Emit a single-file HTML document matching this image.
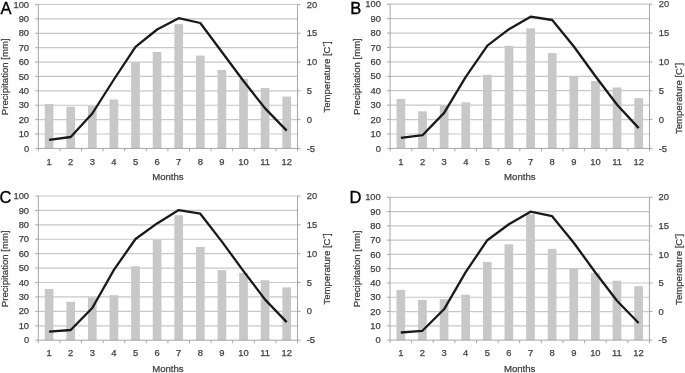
<!DOCTYPE html>
<html><head><meta charset="utf-8"><style>
html,body{margin:0;padding:0;background:#fff;}
body{width:685px;height:373px;overflow:hidden;}
svg{display:block;font-family:"Liberation Sans",sans-serif;filter:grayscale(1) blur(0.3px);}
</style></head><body>
<svg width="685" height="373" viewBox="0 0 685 373">
<rect width="685" height="373" fill="#fff"/>
<path d="M38.3 134.01H297.5M38.3 119.62H297.5M38.3 105.23H297.5M38.3 90.84H297.5M38.3 76.45H297.5M38.3 62.06H297.5M38.3 47.67H297.5M38.3 33.28H297.5M38.3 18.89H297.5M38.3 4.5H297.5" stroke="#c8c8c8" stroke-width="1.2" fill="none"/>
<g fill="#c8c8c8"><rect x="44.75" y="104.07" width="8.7" height="44.33"/><rect x="66.35" y="106.66" width="8.7" height="41.74"/><rect x="87.95" y="106.09" width="8.7" height="42.31"/><rect x="109.55" y="99.59" width="8.7" height="48.81"/><rect x="131.15" y="62.08" width="8.7" height="86.32"/><rect x="152.75" y="51.97" width="8.7" height="96.43"/><rect x="174.35" y="24.12" width="8.7" height="124.28"/><rect x="195.95" y="55.58" width="8.7" height="92.82"/><rect x="217.55" y="69.87" width="8.7" height="78.53"/><rect x="239.15" y="78.96" width="8.7" height="69.44"/><rect x="260.75" y="87.91" width="8.7" height="60.49"/><rect x="282.35" y="96.56" width="8.7" height="51.84"/></g>
<path d="M38.3 4.5V151.4M297.5 4.5V151.4M35.3 148.4H300.5M35.3 134.01H38.3M35.3 119.62H38.3M35.3 105.23H38.3M35.3 90.84H38.3M35.3 76.45H38.3M35.3 62.06H38.3M35.3 47.67H38.3M35.3 33.28H38.3M35.3 18.89H38.3M35.3 4.5H38.3M297.5 119.62H300.5M297.5 90.84H300.5M297.5 62.06H300.5M297.5 33.28H300.5M297.5 4.5H300.5M59.9 148.4V151.4M81.5 148.4V151.4M103.1 148.4V151.4M124.7 148.4V151.4M146.3 148.4V151.4M167.9 148.4V151.4M189.5 148.4V151.4M211.1 148.4V151.4M232.7 148.4V151.4M254.3 148.4V151.4M275.9 148.4V151.4" stroke="#a6a6a6" stroke-width="1" fill="none"/>
<polyline points="49.1,139.8 70.7,137 92.3,113.5 113.9,79.5 135.5,46.8 157.1,29.5 178.7,18.2 200.3,23 221.9,52 243.5,81 265.1,108.4 286.7,130.6" fill="none" stroke="#1a1a1a" stroke-width="2.3" stroke-linejoin="round" stroke-linecap="butt"/>
<g font-size="9.4" fill="#404040" stroke="#404040" stroke-width="0.25"><text x="29.1" y="151.5" text-anchor="end">0</text><text x="29.1" y="137.11" text-anchor="end">10</text><text x="29.1" y="122.72" text-anchor="end">20</text><text x="29.1" y="108.33" text-anchor="end">30</text><text x="29.1" y="93.94" text-anchor="end">40</text><text x="29.1" y="79.55" text-anchor="end">50</text><text x="29.1" y="65.16" text-anchor="end">60</text><text x="29.1" y="50.77" text-anchor="end">70</text><text x="29.1" y="36.38" text-anchor="end">80</text><text x="29.1" y="21.99" text-anchor="end">90</text><text x="29.1" y="7.6" text-anchor="end">100</text><text x="306.7" y="151.5">-5</text><text x="306.7" y="122.72">0</text><text x="306.7" y="93.94">5</text><text x="306.7" y="65.16">10</text><text x="306.7" y="36.38">15</text><text x="306.7" y="7.6">20</text><text x="49.1" y="164.5" text-anchor="middle">1</text><text x="70.7" y="164.5" text-anchor="middle">2</text><text x="92.3" y="164.5" text-anchor="middle">3</text><text x="113.9" y="164.5" text-anchor="middle">4</text><text x="135.5" y="164.5" text-anchor="middle">5</text><text x="157.1" y="164.5" text-anchor="middle">6</text><text x="178.7" y="164.5" text-anchor="middle">7</text><text x="200.3" y="164.5" text-anchor="middle">8</text><text x="221.9" y="164.5" text-anchor="middle">9</text><text x="243.5" y="164.5" text-anchor="middle">10</text><text x="265.1" y="164.5" text-anchor="middle">11</text><text x="286.7" y="164.5" text-anchor="middle">12</text></g>
<g font-size="9.6" fill="#404040" stroke="#404040" stroke-width="0.25"><text x="167.9" y="179.9" text-anchor="middle">Months</text><text transform="translate(8.3,76.8) rotate(-90)" text-anchor="middle">Precipitation [mm]</text><text transform="translate(330.1,77) rotate(-90)" text-anchor="middle">Temperature [C<tspan font-size="6" dy="-3.5">°</tspan><tspan dy="3.5">]</tspan></text></g>
<text x="0.5" y="13.5" font-size="16.5" fill="#000" stroke="#000" stroke-width="0.35">A</text>
<path d="M390.1 133.98H649.5M390.1 119.56H649.5M390.1 105.14H649.5M390.1 90.72H649.5M390.1 76.3H649.5M390.1 61.88H649.5M390.1 47.46H649.5M390.1 33.04H649.5M390.1 18.62H649.5M390.1 4.2H649.5" stroke="#c8c8c8" stroke-width="1.2" fill="none"/>
<g fill="#c8c8c8"><rect x="396.56" y="99.02" width="8.7" height="49.38"/><rect x="418.18" y="111.28" width="8.7" height="37.12"/><rect x="439.79" y="105.51" width="8.7" height="42.89"/><rect x="461.41" y="102.34" width="8.7" height="46.06"/><rect x="483.02" y="74.77" width="8.7" height="73.63"/><rect x="504.64" y="45.77" width="8.7" height="102.63"/><rect x="526.26" y="28.31" width="8.7" height="120.09"/><rect x="547.88" y="53.13" width="8.7" height="95.27"/><rect x="569.49" y="76.51" width="8.7" height="71.89"/><rect x="591.11" y="80.98" width="8.7" height="67.42"/><rect x="612.73" y="87.47" width="8.7" height="60.93"/><rect x="634.34" y="98.15" width="8.7" height="50.25"/></g>
<path d="M390.1 4.2V151.4M649.5 4.2V151.4M387.1 148.4H652.5M387.1 133.98H390.1M387.1 119.56H390.1M387.1 105.14H390.1M387.1 90.72H390.1M387.1 76.3H390.1M387.1 61.88H390.1M387.1 47.46H390.1M387.1 33.04H390.1M387.1 18.62H390.1M387.1 4.2H390.1M649.5 119.56H652.5M649.5 90.72H652.5M649.5 61.88H652.5M649.5 33.04H652.5M649.5 4.2H652.5M411.72 148.4V151.4M433.33 148.4V151.4M454.95 148.4V151.4M476.57 148.4V151.4M498.18 148.4V151.4M519.8 148.4V151.4M541.42 148.4V151.4M563.03 148.4V151.4M584.65 148.4V151.4M606.27 148.4V151.4M627.88 148.4V151.4" stroke="#a6a6a6" stroke-width="1" fill="none"/>
<polyline points="400.91,137.8 422.53,135.2 444.14,112.9 465.76,76.8 487.38,45.7 508.99,29.2 530.61,16.7 552.23,20 573.84,46.5 595.46,76.2 617.08,104.7 638.69,128.1" fill="none" stroke="#1a1a1a" stroke-width="2.3" stroke-linejoin="round" stroke-linecap="butt"/>
<g font-size="9.4" fill="#404040" stroke="#404040" stroke-width="0.25"><text x="380.9" y="151.5" text-anchor="end">0</text><text x="380.9" y="137.08" text-anchor="end">10</text><text x="380.9" y="122.66" text-anchor="end">20</text><text x="380.9" y="108.24" text-anchor="end">30</text><text x="380.9" y="93.82" text-anchor="end">40</text><text x="380.9" y="79.4" text-anchor="end">50</text><text x="380.9" y="64.98" text-anchor="end">60</text><text x="380.9" y="50.56" text-anchor="end">70</text><text x="380.9" y="36.14" text-anchor="end">80</text><text x="380.9" y="21.72" text-anchor="end">90</text><text x="380.9" y="7.3" text-anchor="end">100</text><text x="658.7" y="151.5">-5</text><text x="658.7" y="122.66">0</text><text x="658.7" y="93.82">5</text><text x="658.7" y="64.98">10</text><text x="658.7" y="36.14">15</text><text x="658.7" y="7.3">20</text><text x="400.91" y="164.5" text-anchor="middle">1</text><text x="422.53" y="164.5" text-anchor="middle">2</text><text x="444.14" y="164.5" text-anchor="middle">3</text><text x="465.76" y="164.5" text-anchor="middle">4</text><text x="487.38" y="164.5" text-anchor="middle">5</text><text x="508.99" y="164.5" text-anchor="middle">6</text><text x="530.61" y="164.5" text-anchor="middle">7</text><text x="552.23" y="164.5" text-anchor="middle">8</text><text x="573.84" y="164.5" text-anchor="middle">9</text><text x="595.46" y="164.5" text-anchor="middle">10</text><text x="617.08" y="164.5" text-anchor="middle">11</text><text x="638.69" y="164.5" text-anchor="middle">12</text></g>
<g font-size="9.6" fill="#404040" stroke="#404040" stroke-width="0.25"><text x="519.8" y="179.9" text-anchor="middle">Months</text><text transform="translate(360.1,76.6) rotate(-90)" text-anchor="middle">Precipitation [mm]</text><text transform="translate(682.1,98.5) rotate(-90)" text-anchor="middle">Temperature [C<tspan font-size="6" dy="-3.5">°</tspan><tspan dy="3.5">]</tspan></text></g>
<text x="350.3" y="13.8" font-size="16.5" fill="#000" stroke="#000" stroke-width="0.35">B</text>
<path d="M38.3 325.78H297.5M38.3 311.36H297.5M38.3 296.94H297.5M38.3 282.52H297.5M38.3 268.1H297.5M38.3 253.68H297.5M38.3 239.26H297.5M38.3 224.84H297.5M38.3 210.42H297.5M38.3 196H297.5" stroke="#c8c8c8" stroke-width="1.2" fill="none"/>
<g fill="#c8c8c8"><rect x="44.75" y="288.99" width="8.7" height="51.21"/><rect x="66.35" y="301.81" width="8.7" height="38.39"/><rect x="87.95" y="297.34" width="8.7" height="42.86"/><rect x="109.55" y="295.18" width="8.7" height="45.02"/><rect x="131.15" y="266.24" width="8.7" height="73.96"/><rect x="152.75" y="240.03" width="8.7" height="100.17"/><rect x="174.35" y="215.26" width="8.7" height="124.94"/><rect x="195.95" y="246.94" width="8.7" height="93.26"/><rect x="217.55" y="270.13" width="8.7" height="70.07"/><rect x="239.15" y="272.86" width="8.7" height="67.34"/><rect x="260.75" y="280.21" width="8.7" height="59.99"/><rect x="282.35" y="287.41" width="8.7" height="52.79"/></g>
<path d="M38.3 196V343.2M297.5 196V343.2M35.3 340.2H300.5M35.3 325.78H38.3M35.3 311.36H38.3M35.3 296.94H38.3M35.3 282.52H38.3M35.3 268.1H38.3M35.3 253.68H38.3M35.3 239.26H38.3M35.3 224.84H38.3M35.3 210.42H38.3M35.3 196H38.3M297.5 311.36H300.5M297.5 282.52H300.5M297.5 253.68H300.5M297.5 224.84H300.5M297.5 196H300.5M59.9 340.2V343.2M81.5 340.2V343.2M103.1 340.2V343.2M124.7 340.2V343.2M146.3 340.2V343.2M167.9 340.2V343.2M189.5 340.2V343.2M211.1 340.2V343.2M232.7 340.2V343.2M254.3 340.2V343.2M275.9 340.2V343.2" stroke="#a6a6a6" stroke-width="1" fill="none"/>
<polyline points="49.1,331.7 70.7,330 92.3,308 113.9,269.9 135.5,239 157.1,223.4 178.7,210.1 200.3,213.7 221.9,241.6 243.5,271.1 265.1,299.6 286.7,322.1" fill="none" stroke="#1a1a1a" stroke-width="2.3" stroke-linejoin="round" stroke-linecap="butt"/>
<g font-size="9.4" fill="#404040" stroke="#404040" stroke-width="0.25"><text x="29.1" y="343.3" text-anchor="end">0</text><text x="29.1" y="328.88" text-anchor="end">10</text><text x="29.1" y="314.46" text-anchor="end">20</text><text x="29.1" y="300.04" text-anchor="end">30</text><text x="29.1" y="285.62" text-anchor="end">40</text><text x="29.1" y="271.2" text-anchor="end">50</text><text x="29.1" y="256.78" text-anchor="end">60</text><text x="29.1" y="242.36" text-anchor="end">70</text><text x="29.1" y="227.94" text-anchor="end">80</text><text x="29.1" y="213.52" text-anchor="end">90</text><text x="29.1" y="199.1" text-anchor="end">100</text><text x="306.7" y="343.3">-5</text><text x="306.7" y="314.46">0</text><text x="306.7" y="285.62">5</text><text x="306.7" y="256.78">10</text><text x="306.7" y="227.94">15</text><text x="306.7" y="199.1">20</text><text x="49.1" y="356.3" text-anchor="middle">1</text><text x="70.7" y="356.3" text-anchor="middle">2</text><text x="92.3" y="356.3" text-anchor="middle">3</text><text x="113.9" y="356.3" text-anchor="middle">4</text><text x="135.5" y="356.3" text-anchor="middle">5</text><text x="157.1" y="356.3" text-anchor="middle">6</text><text x="178.7" y="356.3" text-anchor="middle">7</text><text x="200.3" y="356.3" text-anchor="middle">8</text><text x="221.9" y="356.3" text-anchor="middle">9</text><text x="243.5" y="356.3" text-anchor="middle">10</text><text x="265.1" y="356.3" text-anchor="middle">11</text><text x="286.7" y="356.3" text-anchor="middle">12</text></g>
<g font-size="9.6" fill="#404040" stroke="#404040" stroke-width="0.25"><text x="167.9" y="371.7" text-anchor="middle">Months</text><text transform="translate(8.3,268.8) rotate(-90)" text-anchor="middle">Precipitation [mm]</text><text transform="translate(330.1,269) rotate(-90)" text-anchor="middle">Temperature [C<tspan font-size="6" dy="-3.5">°</tspan><tspan dy="3.5">]</tspan></text></g>
<text x="-0.6" y="203.3" font-size="16.5" fill="#000" stroke="#000" stroke-width="0.35">C</text>
<path d="M390 325.82H649.4M390 311.54H649.4M390 297.26H649.4M390 282.98H649.4M390 268.7H649.4M390 254.42H649.4M390 240.14H649.4M390 225.86H649.4M390 211.58H649.4M390 197.3H649.4" stroke="#c8c8c8" stroke-width="1.2" fill="none"/>
<g fill="#c8c8c8"><rect x="396.46" y="289.9" width="8.7" height="50.2"/><rect x="418.07" y="299.82" width="8.7" height="40.28"/><rect x="439.69" y="299.1" width="8.7" height="41"/><rect x="461.31" y="294.65" width="8.7" height="45.45"/><rect x="482.92" y="261.88" width="8.7" height="78.22"/><rect x="504.54" y="244.35" width="8.7" height="95.75"/><rect x="526.16" y="214.18" width="8.7" height="125.92"/><rect x="547.77" y="248.81" width="8.7" height="91.29"/><rect x="569.39" y="268.49" width="8.7" height="71.61"/><rect x="591.01" y="272.8" width="8.7" height="67.3"/><rect x="612.62" y="280.71" width="8.7" height="59.39"/><rect x="634.24" y="286.17" width="8.7" height="53.93"/></g>
<path d="M390 197.3V343.1M649.4 197.3V343.1M387 340.1H652.4M387 325.82H390M387 311.54H390M387 297.26H390M387 282.98H390M387 268.7H390M387 254.42H390M387 240.14H390M387 225.86H390M387 211.58H390M387 197.3H390M649.4 311.54H652.4M649.4 282.98H652.4M649.4 254.42H652.4M649.4 225.86H652.4M649.4 197.3H652.4M411.62 340.1V343.1M433.23 340.1V343.1M454.85 340.1V343.1M476.47 340.1V343.1M498.08 340.1V343.1M519.7 340.1V343.1M541.32 340.1V343.1M562.93 340.1V343.1M584.55 340.1V343.1M606.17 340.1V343.1M627.78 340.1V343.1" stroke="#a6a6a6" stroke-width="1" fill="none"/>
<polyline points="400.81,332.5 422.43,330.8 444.04,309.3 465.66,272.2 487.27,240.2 508.89,224.3 530.51,211.7 552.12,216.2 573.74,242.7 595.36,272.5 616.97,300.7 638.59,323" fill="none" stroke="#1a1a1a" stroke-width="2.3" stroke-linejoin="round" stroke-linecap="butt"/>
<g font-size="9.4" fill="#404040" stroke="#404040" stroke-width="0.25"><text x="380.8" y="343.2" text-anchor="end">0</text><text x="380.8" y="328.92" text-anchor="end">10</text><text x="380.8" y="314.64" text-anchor="end">20</text><text x="380.8" y="300.36" text-anchor="end">30</text><text x="380.8" y="286.08" text-anchor="end">40</text><text x="380.8" y="271.8" text-anchor="end">50</text><text x="380.8" y="257.52" text-anchor="end">60</text><text x="380.8" y="243.24" text-anchor="end">70</text><text x="380.8" y="228.96" text-anchor="end">80</text><text x="380.8" y="214.68" text-anchor="end">90</text><text x="380.8" y="200.4" text-anchor="end">100</text><text x="658.6" y="343.2">-5</text><text x="658.6" y="314.64">0</text><text x="658.6" y="286.08">5</text><text x="658.6" y="257.52">10</text><text x="658.6" y="228.96">15</text><text x="658.6" y="200.4">20</text><text x="400.81" y="356.2" text-anchor="middle">1</text><text x="422.43" y="356.2" text-anchor="middle">2</text><text x="444.04" y="356.2" text-anchor="middle">3</text><text x="465.66" y="356.2" text-anchor="middle">4</text><text x="487.27" y="356.2" text-anchor="middle">5</text><text x="508.89" y="356.2" text-anchor="middle">6</text><text x="530.51" y="356.2" text-anchor="middle">7</text><text x="552.12" y="356.2" text-anchor="middle">8</text><text x="573.74" y="356.2" text-anchor="middle">9</text><text x="595.36" y="356.2" text-anchor="middle">10</text><text x="616.97" y="356.2" text-anchor="middle">11</text><text x="638.59" y="356.2" text-anchor="middle">12</text></g>
<g font-size="9.6" fill="#404040" stroke="#404040" stroke-width="0.25"><text x="519.7" y="371.6" text-anchor="middle">Months</text><text transform="translate(360,268.8) rotate(-90)" text-anchor="middle">Precipitation [mm]</text><text transform="translate(682,269.3) rotate(-90)" text-anchor="middle">Temperature [C<tspan font-size="6" dy="-3.5">°</tspan><tspan dy="3.5">]</tspan></text></g>
<text x="349.6" y="203.4" font-size="16.5" fill="#000" stroke="#000" stroke-width="0.35">D</text>
</svg>
</body></html>
